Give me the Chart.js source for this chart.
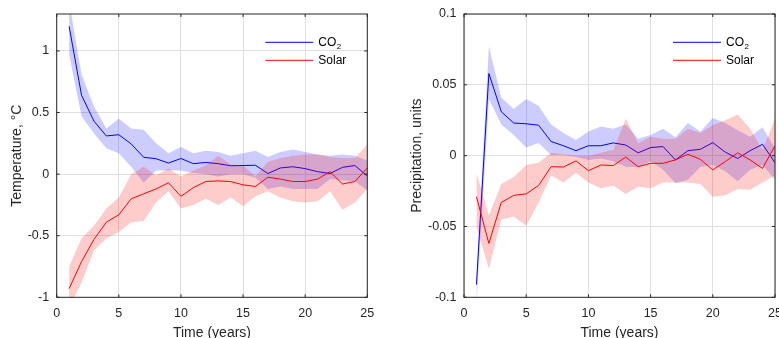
<!DOCTYPE html>
<html><head><meta charset="utf-8">
<script src="https://cdn.jsdelivr.net/npm/chart.js@4.4.1/dist/chart.umd.min.js"></script>
<style>
html,body{margin:0;padding:0;background:#fff;overflow:hidden;width:779px;height:338px}
#w1{position:absolute;left:0;top:0;width:390px;height:338px}
#w2{position:absolute;left:390px;top:0;width:389px;height:338px}
</style></head><body>
<div id="w1"><canvas id="c1" width="390" height="338"></canvas></div>
<div id="w2"><canvas id="c2" width="389" height="338"></canvas></div>
<script>
// ---- data ----
const years = [1,2,3,4,5,6,7,8,9,10,11,12,13,14,15,16,17,18,19,20,21,22,23,24,25];

const tempCO2   = [1.20,0.64,0.43,0.31,0.32,0.245,0.137,0.125,0.09,0.127,0.085,0.095,0.085,0.068,0.07,0.072,0.005,0.05,0.06,0.045,0.02,0.005,0.055,0.07,-0.015];
const tempCO2Hi = [1.40,0.81,0.55,0.37,0.45,0.37,0.36,0.25,0.17,0.22,0.17,0.19,0.18,0.15,0.17,0.19,0.14,0.18,0.20,0.18,0.16,0.15,0.16,0.15,0.11];
const tempCO2Lo = [0.97,0.47,0.33,0.21,0.17,0.06,-0.07,0.03,0.03,0.03,0.01,0.0,-0.02,0.0,0.0,-0.03,-0.12,-0.10,-0.12,-0.12,-0.12,-0.04,-0.05,-0.06,-0.13];

const tempSolar   = [-0.93,-0.71,-0.53,-0.39,-0.33,-0.20,-0.16,-0.12,-0.07,-0.18,-0.11,-0.06,-0.055,-0.06,-0.087,-0.10,-0.025,-0.04,-0.06,-0.06,-0.04,0.02,-0.08,-0.06,0.05];
const tempSolarHi = [-0.75,-0.52,-0.42,-0.28,-0.19,0.0,0.06,-0.01,0.045,-0.02,0.03,0.07,0.15,0.08,0.07,-0.02,0.10,0.128,0.15,0.16,0.16,0.14,0.13,0.13,0.24];
const tempSolarLo = [-1.08,-0.88,-0.62,-0.52,-0.47,-0.39,-0.38,-0.23,-0.14,-0.28,-0.25,-0.20,-0.25,-0.19,-0.26,-0.18,-0.14,-0.19,-0.22,-0.23,-0.22,-0.14,-0.29,-0.23,-0.12];

const precCO2   = [-0.091,0.058,0.031,0.023,0.0225,0.0215,0.010,0.007,0.0035,0.007,0.007,0.009,0.0075,0.002,0.0057,0.0064,-0.003,0.0035,0.0045,0.0092,0.0025,-0.002,0.0035,0.008,-0.005];
const precCO2Hi = [-0.085,0.077,0.041,0.033,0.040,0.035,0.022,0.016,0.011,0.017,0.0205,0.019,0.022,0.012,0.0146,0.019,0.013,0.023,0.017,0.0265,0.023,0.018,0.0134,0.020,0.005];
const precCO2Lo = [-0.105,0.040,0.022,0.0146,0.0057,0.009,0.0005,0.0005,-0.001,-0.003,-0.002,-0.004,-0.0078,-0.008,-0.004,-0.010,-0.0195,-0.017,-0.008,-0.0066,-0.011,-0.018,-0.010,-0.0066,-0.017];

const precSolar   = [-0.029,-0.062,-0.033,-0.028,-0.027,-0.021,-0.0078,-0.008,-0.0037,-0.0106,-0.0066,-0.007,-0.001,-0.0078,-0.0054,-0.0054,-0.003,0.001,-0.0026,-0.010,-0.0042,0.002,-0.003,-0.009,0.007];
const precSolarHi = [-0.012,-0.042,-0.020,-0.015,-0.0066,-0.005,0.002,0.001,0.0,0.0,0.002,0.004,0.026,0.0088,0.0134,0.012,0.012,0.019,0.016,0.0217,0.025,0.029,0.019,0.004,0.026];
const precSolarLo = [-0.050,-0.080,-0.045,-0.043,-0.0495,-0.033,-0.014,-0.019,-0.012,-0.019,-0.023,-0.021,-0.027,-0.022,-0.023,-0.019,-0.019,-0.019,-0.020,-0.029,-0.028,-0.0235,-0.024,-0.019,-0.014];

const xTicks = [0,5,10,15,20,25];
const tempTicks = [-1,-0.5,0,0.5,1];
const precTicks = [-0.1,-0.05,0,0.05,0.1];
const seriesNames = ['CO\u2082','Solar'];

// ---- drawing ----
const AX = '#262626';
Chart.defaults.font.family = "'Liberation Sans', Arial, Helvetica, sans-serif";
Chart.defaults.color = AX;

const pts = (vals) => years.map((t,i) => ({x:t, y:vals[i]}));
const fmt = (v) => { const r = Math.round(v*1000)/1000; return String(r === 0 ? 0 : r); };

const boxPlugin = {
  id: 'matlabBox',
  afterDraw(chart) {
    const {ctx, chartArea: a, scales} = chart;
    ctx.save();
    ctx.strokeStyle = AX;
    ctx.lineWidth = 1;
    ctx.strokeRect(a.left, a.top, a.right - a.left, a.bottom - a.top);
    const L = 3;
    ctx.beginPath();
    scales.x.ticks.forEach(t => {
      const p = scales.x.getPixelForValue(t.value);
      ctx.moveTo(p, a.bottom); ctx.lineTo(p, a.bottom - L);
      ctx.moveTo(p, a.top); ctx.lineTo(p, a.top + L);
    });
    scales.y.ticks.forEach(t => {
      const p = scales.y.getPixelForValue(t.value);
      ctx.moveTo(a.left, p); ctx.lineTo(a.left + L, p);
      ctx.moveTo(a.right, p); ctx.lineTo(a.right - L, p);
    });
    ctx.stroke();
    // legend
    const items = [{c:'#0000ff', name: seriesNames[0]}, {c:'#ff0000', name: seriesNames[1]}];
    items.forEach((it, k) => {
      const y = a.top + 28.3 + k * 18;
      ctx.strokeStyle = it.c;
      ctx.beginPath();
      ctx.moveTo(a.right - 102, y); ctx.lineTo(a.right - 54, y);
      ctx.stroke();
      ctx.fillStyle = '#000';
      ctx.textBaseline = 'middle';
      ctx.font = "12px 'Liberation Sans', Arial, sans-serif";
      const x0 = a.right - 49;
      if (it.name.indexOf('\u2082') >= 0) {
        const base = it.name.replace('\u2082', '');
        ctx.fillText(base, x0, y);
        const w = ctx.measureText(base).width;
        ctx.font = "8px 'Liberation Sans', Arial, sans-serif";
        ctx.fillText('2', x0 + w + 0.5, y + 4.5);
      } else {
        ctx.fillText(it.name, x0, y);
      }
    });
    ctx.restore();
  }
};

function make(id, d, yMin, yMax, yStep, yTickVals, yTitle, yAxisW, yTitlePad, padRight) {
  const line = (data, color, label, order) => ({
    label, data: pts(data), borderColor: color, borderWidth: 1, pointRadius: 0,
    fill: false, tension: 0, order
  });
  const band = (data, fillTo, color, label, order) => ({
    label, data: pts(data), borderWidth: 0, borderColor: 'rgba(0,0,0,0)', pointRadius: 0,
    backgroundColor: color, fill: fillTo, tension: 0, order
  });
  return new Chart(document.getElementById(id), {
    type: 'line',
    data: {
      datasets: [
        band(d.cHi, '+1', 'rgba(0,0,255,0.2)', seriesNames[0] + ' upper', 4),
        band(d.cLo, false, 'rgba(0,0,255,0.2)', seriesNames[0] + ' lower', 4),
        line(d.c, '#0000ff', seriesNames[0], 3),
        band(d.sHi, '+1', 'rgba(255,0,0,0.2)', seriesNames[1] + ' upper', 2),
        band(d.sLo, false, 'rgba(255,0,0,0.2)', seriesNames[1] + ' lower', 2),
        line(d.s, '#ff0000', seriesNames[1], 1)
      ]
    },
    options: {
      responsive: false, animation: false, devicePixelRatio: 1,
      layout: { padding: { left: 0, right: padRight, top: 14, bottom: 0 } },
      plugins: { legend: { display: false }, tooltip: { enabled: false } },
      scales: {
        x: {
          type: 'linear', min: 0, max: 25,
          afterBuildTicks: s => { s.ticks = xTicks.map(v => ({value: v})); },
          ticks: { font: { size: 12.5 }, color: AX, padding: 9, maxRotation: 0, callback: fmt },
          grid: { color: '#e0e0e0', drawTicks: false },
          border: { display: false },
          title: { display: true, text: 'Time (years)', color: AX, font: { size: 14, lineHeight: 0.72 }, padding: { top: 0, bottom: 0 } },
          afterFit: s => { s.height = 40.7; s.paddingLeft = 0; s.paddingRight = 0; }
        },
        y: {
          type: 'linear', min: yMin, max: yMax,
          afterBuildTicks: s => { s.ticks = yTickVals.map(v => ({value: v})); },
          ticks: { font: { size: 12.5 }, color: AX, padding: 7.5, callback: fmt },
          grid: { color: '#e0e0e0', drawTicks: false },
          border: { display: false },
          title: { display: true, text: yTitle, color: AX, font: { size: 14, lineHeight: 1 }, padding: { top: yTitlePad, bottom: 0 } },
          afterFit: s => { s.width = yAxisW; s.paddingTop = 0; s.paddingBottom = 0; }
        }
      }
    },
    plugins: [boxPlugin]
  });
}

make('c1', {c: tempCO2, cHi: tempCO2Hi, cLo: tempCO2Lo, s: tempSolar, sHi: tempSolarHi, sLo: tempSolarLo},
     -1, 1.3, 0.5, tempTicks, 'Temperature, \u00B0C', 56.7, 10, 22.7);
make('c2', {c: precCO2, cHi: precCO2Hi, cLo: precCO2Lo, s: precSolar, sHi: precSolarHi, sLo: precSolarLo},
     -0.1, 0.1, 0.05, precTicks, 'Precipitation, units', 74, 20, 4);
</script>
</body></html>
